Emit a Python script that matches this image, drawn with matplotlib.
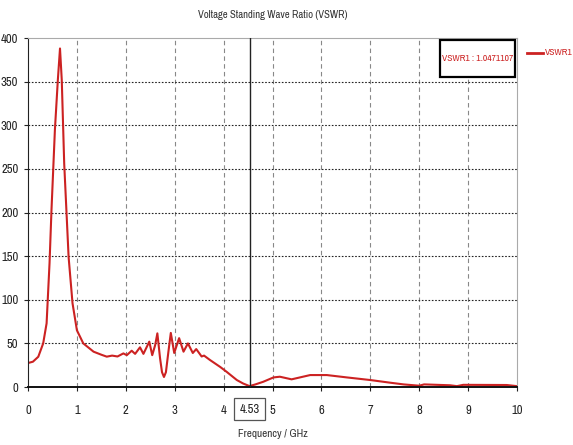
import matplotlib
matplotlib.use('Agg')
import matplotlib.pyplot as plt
from matplotlib import font_manager
from matplotlib.font_manager import FontProperties
from matplotlib.patches import Rectangle

# VSWR sweep of port 1, frequency in GHz
freq = [0.0, 0.1, 0.21, 0.31, 0.38, 0.44, 0.48, 0.55, 0.61, 0.654, 0.69, 0.74, 0.83, 0.91,
        1.0, 1.13, 1.34, 1.5, 1.61, 1.72, 1.83, 1.95, 2.02, 2.12, 2.19, 2.29, 2.36, 2.48,
        2.54, 2.6, 2.645, 2.7, 2.74, 2.78, 2.82, 2.87, 2.92, 2.99, 3.09, 3.18, 3.27, 3.37,
        3.44, 3.55, 3.6, 3.72, 3.93, 4.06, 4.27, 4.4, 4.53, 4.65, 4.81, 5.02, 5.15, 5.39,
        5.77, 6.11, 6.52, 7.0, 7.4, 7.68, 8.0, 8.1, 8.63, 8.77, 8.9, 9.79, 10.0]
vswr = [27.5, 29, 34.7, 50, 73, 142, 203, 295, 352, 388, 352, 256, 149, 96,
        65, 50, 40.5, 37, 34.8, 36, 35, 38.5, 36.5, 41.6, 38, 45.5, 38, 52,
        36.5, 48, 61.5, 33, 17, 11.5, 17, 40, 62, 39, 56, 40.5, 50, 39,
        43.5, 35, 36, 31, 23, 17.5, 8, 4, 1.05, 3, 6, 11, 11.8, 8.8,
        13.7, 13.7, 11, 8, 5, 3, 1.5, 3, 2, 1, 2.5, 2.3, 1]

x_ticks = [0, 1, 2, 3, 4, 5, 6, 7, 8, 9, 10]
y_ticks = [0, 50, 100, 150, 200, 250, 300, 350, 400]
marker_freq = 4.53
marker_value = 1.0471107
trace_name = 'VSWR1'
title = 'Voltage Standing Wave Ratio (VSWR)'
xlabel = 'Frequency / GHz'


def narrow_font():
    # look for a narrow / condensed regular face, else plain sans
    best = None
    for f in font_manager.fontManager.ttflist:
        w = f.weight if isinstance(f.weight, int) else {'normal': 400, 'regular': 400}.get(str(f.weight), 0)
        if w != 400 or f.style != 'normal':
            continue
        tag = (f.name + ' ' + f.fname).lower()
        if 'narrow' in tag:
            rank = 0
        elif 'condensed' in tag and 'semi' not in tag and 'extra' not in tag:
            rank = 1
        elif 'condensed' in f.stretch:
            rank = 2
        else:
            continue
        if best is None or rank < best[0]:
            best = (rank, f.fname)
    if best:
        return FontProperties(fname=best[1])
    return FontProperties(family='DejaVu Sans')


fp = narrow_font()

red = '#cc2222'
txt = '#333333'

fig = plt.figure(figsize=(5.73, 4.45), dpi=100)
renderer = fig.canvas.get_renderer()


def size_for(s, width_px, cap):
    t = fig.text(0, 0, s, fontproperties=fp, fontsize=10)
    w = t.get_window_extent(renderer).width
    t.remove()
    return min(cap, 10.0 * width_px / w)


title_fs = size_for(title, 150, 10)
xlab_fs = size_for(xlabel, 70, 10)
box_fs = size_for('%s : %.7f' % (trace_name, marker_value), 71, 9)
tick_fs = size_for('400', 17, 10)
leg_fs = size_for(trace_name, 28, 9)

ax = fig.add_axes([0.0489, 0.1303, 0.8534, 0.7843])

ax.plot(freq, vswr, color=red, lw=1.5, solid_joinstyle='round')

ax.set_xlim(0, 10)
ax.set_ylim(0, 400)
ax.set_xticks(x_ticks)
ax.set_yticks(y_ticks)
ax.tick_params(axis='both', colors='#222222', length=3, width=0.8)
ax.tick_params(axis='x', pad=10)
ax.tick_params(axis='y', pad=4)
for lab in ax.get_xticklabels() + ax.get_yticklabels():
    lab.set_fontproperties(fp)
    lab.set_fontsize(tick_fs)
    lab.set_color('#222222')

# dashed verticals, dotted horizontals
for xv in x_ticks[1:-1]:
    ax.axvline(xv, color='#888888', lw=0.8, ls=(0, (4, 3)), zorder=0)
for yv in y_ticks[1:-1]:
    ax.axhline(yv, color='#222222', lw=0.8, ls=(0, (1.5, 1.5)), zorder=0)

for side in ('top', 'right'):
    ax.spines[side].set_color('#aaaaaa')
    ax.spines[side].set_linewidth(0.8)
ax.spines['left'].set_color('#222222')
ax.spines['bottom'].set_color('#111111')
ax.spines['bottom'].set_linewidth(1.4)

# frequency marker
ax.axvline(marker_freq, color='#222222', lw=1.0, zorder=3)
ax.text(marker_freq, -0.063, '%.2f' % marker_freq, transform=ax.get_xaxis_transform(),
        ha='center', va='center', fontproperties=fp, fontsize=tick_fs, color='#222222',
        bbox=dict(boxstyle='square,pad=0.4', fc='white', ec='#555555', lw=0.9))

# marker readout box in the top right corner
ax.add_patch(Rectangle((0.8425, 0.888), 0.153, 0.106, transform=ax.transAxes,
                       fc='white', ec='black', lw=1.6, zorder=4))
ax.text(0.919, 0.941, '%s : %.7f' % (trace_name, marker_value), transform=ax.transAxes,
        ha='center', va='center', fontproperties=fp, fontsize=box_fs, color=red, zorder=5)

fig.text(0.4756, 0.966, title, ha='center', va='center', fontproperties=fp,
         fontsize=title_fs, color=txt)
fig.text(0.4756, 0.025, xlabel, ha='center', va='center', fontproperties=fp,
         fontsize=xlab_fs, color=txt)

# legend entry outside the plot
fig.lines.append(plt.Line2D([0.92, 0.948], [0.882, 0.882], color=red, lw=2,
                            transform=fig.transFigure))
fig.text(0.951, 0.882, trace_name, color=red, fontproperties=fp, fontsize=leg_fs,
         va='center', ha='left')

fig.savefig('out.png', dpi=100)
